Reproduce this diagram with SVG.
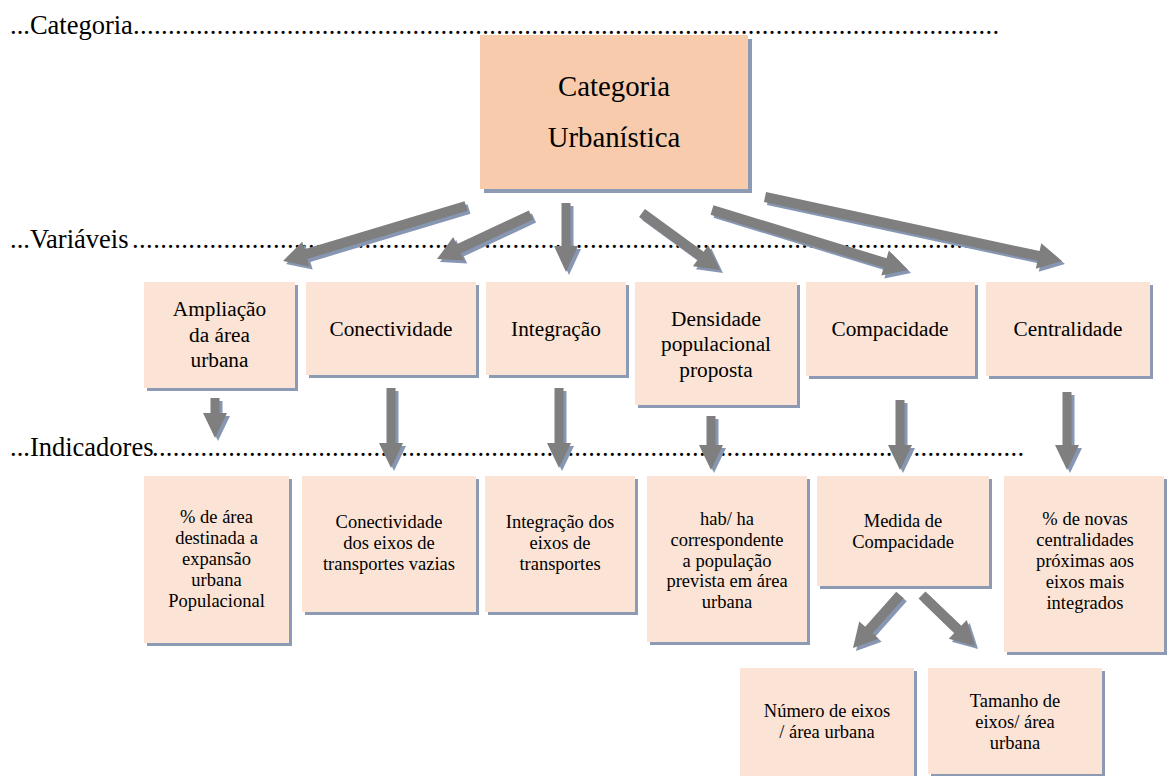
<svg xmlns="http://www.w3.org/2000/svg" width="1167" height="776" viewBox="0 0 1167 776">
  <style>
    .lvl { font-family: "Liberation Serif", "Times New Roman", serif; font-size: 26.5px; fill: #000; }
    .dots { font-family: "Liberation Serif", "Times New Roman", serif; font-size: 26.5px; fill: #000; }
    .box { fill: #fbe4d5; }
    .boxMain { fill: #f7cbac; }
    .shadow { fill: #8c9ab3; }
    .t-main { font-family: "Liberation Serif", "Times New Roman", serif; font-size: 28.8px; text-anchor: middle; fill: #000; }
    .t-var { font-family: "Liberation Serif", "Times New Roman", serif; font-size: 21.3px; text-anchor: middle; fill: #000; }
    .t-ind { font-family: "Liberation Serif", "Times New Roman", serif; font-size: 18.5px; text-anchor: middle; fill: #000; }
    .arr { fill: #7f7f7f; }
    .arrS { fill: #8797b3; }
  </style>

  <rect width="1167" height="776" fill="#fff"/>

  <!-- level guide lines -->
  <g id="levels">
    <text class="lvl" x="10" y="34">...Categoria</text>
    <text class="dots" x="133" y="34" textLength="866" lengthAdjust="spacing">............................................................................................................................</text>
    <text class="lvl" x="10" y="248">...Variáveis</text>
    <text class="dots" x="132" y="248" textLength="852" lengthAdjust="spacing">.........................................................................................................................</text>
    <text class="lvl" x="10" y="456">...Indicadores</text>
    <text class="dots" x="152" y="456" textLength="872" lengthAdjust="spacing">..............................................................................................................................</text>
  </g>

  <!-- category -->
  <g id="categoria">
    <rect class="shadow" x="484" y="39" width="268" height="154"/>
    <rect class="boxMain" x="480" y="35" width="268" height="154"/>
    <text class="t-main" x="614" y="96">Categoria</text>
    <text class="t-main" x="614" y="147">Urbanística</text>
  </g>

  <!-- variables -->
  <g id="var-ampliacao">
    <rect class="shadow" x="147" y="285" width="151" height="106"/>
    <rect class="box" x="144" y="282" width="151" height="106"/>
    <text class="t-var" x="219.5" y="316">Ampliação</text>
    <text class="t-var" x="219.5" y="342">da área</text>
    <text class="t-var" x="219.5" y="367">urbana</text>
  </g>
  <g id="var-conectividade">
    <rect class="shadow" x="309" y="285" width="170" height="93"/>
    <rect class="box" x="306" y="282" width="170" height="93"/>
    <text class="t-var" x="391" y="336">Conectividade</text>
  </g>
  <g id="var-integracao">
    <rect class="shadow" x="489" y="285" width="140" height="93"/>
    <rect class="box" x="486" y="282" width="140" height="93"/>
    <text class="t-var" x="556" y="336">Integração</text>
  </g>
  <g id="var-densidade">
    <rect class="shadow" x="638" y="285" width="162" height="123"/>
    <rect class="box" x="635" y="282" width="162" height="123"/>
    <text class="t-var" x="716" y="326">Densidade</text>
    <text class="t-var" x="716" y="351">populacional</text>
    <text class="t-var" x="716" y="377">proposta</text>
  </g>
  <g id="var-compacidade">
    <rect class="shadow" x="809" y="285" width="169" height="94"/>
    <rect class="box" x="806" y="282" width="169" height="94"/>
    <text class="t-var" x="890" y="336">Compacidade</text>
  </g>
  <g id="var-centralidade">
    <rect class="shadow" x="989" y="285" width="164" height="94"/>
    <rect class="box" x="986" y="282" width="164" height="94"/>
    <text class="t-var" x="1068" y="336">Centralidade</text>
  </g>

  <!-- indicators -->
  <g id="ind-expansao">
    <rect class="shadow" x="147" y="479" width="145" height="167"/>
    <rect class="box" x="144" y="476" width="145" height="167"/>
    <text class="t-ind" x="216.5" y="523">% de área</text>
    <text class="t-ind" x="216.5" y="544">destinada a</text>
    <text class="t-ind" x="216.5" y="565">expansão</text>
    <text class="t-ind" x="216.5" y="586">urbana</text>
    <text class="t-ind" x="216.5" y="607">Populacional</text>
  </g>
  <g id="ind-conectividade">
    <rect class="shadow" x="305" y="479" width="174" height="136"/>
    <rect class="box" x="302" y="476" width="174" height="136"/>
    <text class="t-ind" x="389" y="528">Conectividade</text>
    <text class="t-ind" x="389" y="549">dos eixos de</text>
    <text class="t-ind" x="389" y="570">transportes vazias</text>
  </g>
  <g id="ind-integracao">
    <rect class="shadow" x="488" y="479" width="150" height="136"/>
    <rect class="box" x="485" y="476" width="150" height="136"/>
    <text class="t-ind" x="560" y="528">Integração dos</text>
    <text class="t-ind" x="560" y="549">eixos de</text>
    <text class="t-ind" x="560" y="570">transportes</text>
  </g>
  <g id="ind-densidade">
    <rect class="shadow" x="650" y="479" width="160" height="166"/>
    <rect class="box" x="647" y="476" width="160" height="166"/>
    <text class="t-ind" x="727" y="525">hab/ ha</text>
    <text class="t-ind" x="727" y="546">correspondente</text>
    <text class="t-ind" x="727" y="567">a população</text>
    <text class="t-ind" x="727" y="587">prevista em área</text>
    <text class="t-ind" x="727" y="608">urbana</text>
  </g>
  <g id="ind-compacidade">
    <rect class="shadow" x="820" y="479" width="172" height="110"/>
    <rect class="box" x="817" y="476" width="172" height="110"/>
    <text class="t-ind" x="903" y="527">Medida de</text>
    <text class="t-ind" x="903" y="548">Compacidade</text>
  </g>
  <g id="ind-centralidade">
    <rect class="shadow" x="1007" y="479" width="160" height="176"/>
    <rect class="box" x="1004" y="476" width="160" height="176"/>
    <text class="t-ind" x="1085" y="525">% de novas</text>
    <text class="t-ind" x="1085" y="546">centralidades</text>
    <text class="t-ind" x="1085" y="567">próximas aos</text>
    <text class="t-ind" x="1085" y="588">eixos mais</text>
    <text class="t-ind" x="1085" y="609">integrados</text>
  </g>

  <!-- compactness sub-indicators -->
  <g id="sub-numero">
    <rect class="shadow" x="743" y="671" width="174" height="108"/>
    <rect class="box" x="740" y="668" width="174" height="108"/>
    <text class="t-ind" x="827" y="717">Número de eixos</text>
    <text class="t-ind" x="827" y="738">/ área urbana</text>
  </g>
  <g id="sub-tamanho">
    <rect class="shadow" x="931" y="671" width="174" height="106"/>
    <rect class="box" x="928" y="668" width="174" height="106"/>
    <text class="t-ind" x="1015" y="707">Tamanho de</text>
    <text class="t-ind" x="1015" y="728">eixos/ área</text>
    <text class="t-ind" x="1015" y="749">urbana</text>
  </g>

  <!-- block arrows: shaft 10, head 26 wide x 24 long, drawn along +x then rotated -->
  <g id="connectors">
    <!-- category to variables -->
    <polygon class="arrS" transform="translate(469,209) rotate(163.27)" points="0,-5 167.1,-5 167.1,-13 191.1,0 167.1,13 167.1,5 0,5"/>
    <polygon class="arr" transform="translate(466,206) rotate(163.27)" points="0,-5 167.1,-5 167.1,-13 191.1,0 167.1,13 167.1,5 0,5"/>

    <polygon class="arrS" transform="translate(534,218) rotate(154.92)" points="0,-5 79.8,-5 79.8,-13 103.8,0 79.8,13 79.8,5 0,5"/>
    <polygon class="arr" transform="translate(531,215) rotate(154.92)" points="0,-5 79.8,-5 79.8,-13 103.8,0 79.8,13 79.8,5 0,5"/>

    <polygon class="arrS" transform="translate(569,206) rotate(90)" points="0,-4.5 43,-4.5 43,-12 69,0 43,12 43,4.5 0,4.5"/>
    <polygon class="arr" transform="translate(566,203) rotate(90)" points="0,-4.5 43,-4.5 43,-12 69,0 43,12 43,4.5 0,4.5"/>

    <polygon class="arrS" transform="translate(645,216) rotate(36.16)" points="0,-5 72.6,-5 72.6,-13 96.6,0 72.6,13 72.6,5 0,5"/>
    <polygon class="arr" transform="translate(642,213) rotate(36.16)" points="0,-5 72.6,-5 72.6,-13 96.6,0 72.6,13 72.6,5 0,5"/>

    <polygon class="arrS" transform="translate(715,213) rotate(17.02)" points="0,-5 181,-5 181,-13 205,0 181,13 181,5 0,5"/>
    <polygon class="arr" transform="translate(712,210) rotate(17.02)" points="0,-5 181,-5 181,-13 205,0 181,13 181,5 0,5"/>

    <polygon class="arrS" transform="translate(768,200) rotate(12.16)" points="0,-5 279.8,-5 279.8,-13 303.8,0 279.8,13 279.8,5 0,5"/>
    <polygon class="arr" transform="translate(765,197) rotate(12.16)" points="0,-5 279.8,-5 279.8,-13 303.8,0 279.8,13 279.8,5 0,5"/>

    <!-- variables to indicators -->
    <polygon class="arrS" transform="translate(218,401) rotate(90)" points="0,-4.5 15,-4.5 15,-12 40,0 15,12 15,4.5 0,4.5"/>
    <polygon class="arr" transform="translate(215,398) rotate(90)" points="0,-4.5 15,-4.5 15,-12 40,0 15,12 15,4.5 0,4.5"/>

    <polygon class="arrS" transform="translate(394,391) rotate(90)" points="0,-4.5 55,-4.5 55,-12 80,0 55,12 55,4.5 0,4.5"/>
    <polygon class="arr" transform="translate(391,388) rotate(90)" points="0,-4.5 55,-4.5 55,-12 80,0 55,12 55,4.5 0,4.5"/>

    <polygon class="arrS" transform="translate(562,391) rotate(90)" points="0,-4.5 55,-4.5 55,-12 80,0 55,12 55,4.5 0,4.5"/>
    <polygon class="arr" transform="translate(559,388) rotate(90)" points="0,-4.5 55,-4.5 55,-12 80,0 55,12 55,4.5 0,4.5"/>

    <polygon class="arrS" transform="translate(714,419) rotate(90)" points="0,-4.5 29,-4.5 29,-12 54,0 29,12 29,4.5 0,4.5"/>
    <polygon class="arr" transform="translate(711,416) rotate(90)" points="0,-4.5 29,-4.5 29,-12 54,0 29,12 29,4.5 0,4.5"/>

    <polygon class="arrS" transform="translate(903,403) rotate(90)" points="0,-4.5 45,-4.5 45,-12 70,0 45,12 45,4.5 0,4.5"/>
    <polygon class="arr" transform="translate(900,400) rotate(90)" points="0,-4.5 45,-4.5 45,-12 70,0 45,12 45,4.5 0,4.5"/>

    <polygon class="arrS" transform="translate(1070,395) rotate(90)" points="0,-4.5 53,-4.5 53,-12 78,0 53,12 53,4.5 0,4.5"/>
    <polygon class="arr" transform="translate(1067,392) rotate(90)" points="0,-4.5 53,-4.5 53,-12 78,0 53,12 53,4.5 0,4.5"/>

    <!-- compactness measure to sub-indicators -->
    <polygon class="arrS" transform="translate(903,598) rotate(131.56)" points="0,-5 46.8,-5 46.8,-13 70.8,0 46.8,13 46.8,5 0,5"/>
    <polygon class="arr" transform="translate(900,595) rotate(131.56)" points="0,-5 46.8,-5 46.8,-13 70.8,0 46.8,13 46.8,5 0,5"/>

    <polygon class="arrS" transform="translate(925,598) rotate(43.9)" points="0,-5 49.6,-5 49.6,-13 73.6,0 49.6,13 49.6,5 0,5"/>
    <polygon class="arr" transform="translate(922,595) rotate(43.9)" points="0,-5 49.6,-5 49.6,-13 73.6,0 49.6,13 49.6,5 0,5"/>
  </g>
</svg>
